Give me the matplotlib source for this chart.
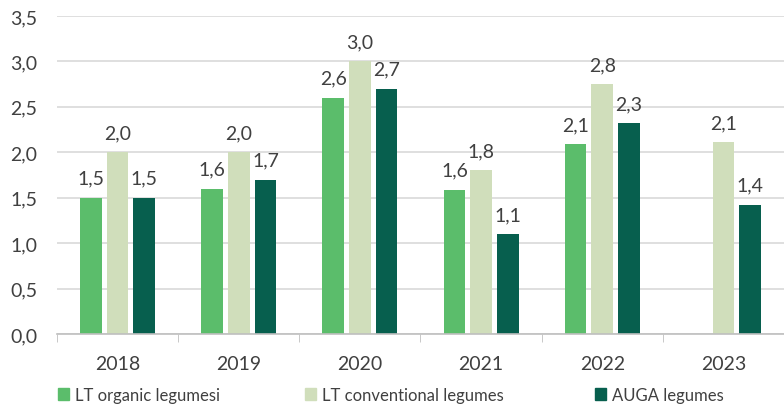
import matplotlib.pyplot as plt
from matplotlib.patches import Patch
import numpy as np

years = ["2018", "2019", "2020", "2021", "2022", "2023"]
organic = [1.5, 1.6, 2.6, 1.59, 2.09, np.nan]
conventional = [2.0, 2.0, 3.0, 1.8, 2.75, 2.11]
auga = [1.5, 1.7, 2.7, 1.1, 2.32, 1.42]
series_names = ["LT organic legumesi", "LT conventional legumes", "AUGA legumes"]
colors = ["#5BBD6B", "#D0DEBB", "#075F4E"]

plt.rcParams['font.family'] = ['Lato', 'DejaVu Sans']
text_color = "#404040"

fig = plt.figure(figsize=(7.84, 4.06), dpi=100)
ax = fig.add_axes([57 / 784, 1 - 335 / 406, 727 / 784, 318 / 406])

x = np.arange(len(years))
width = 0.18
offsets = [-0.22, 0.0, 0.22]

for vals, off, col, name in zip([organic, conventional, auga], offsets, colors, series_names):
    ax.bar(x + off, vals, width, color=col, label=name, zorder=3)
    for xi, v in zip(x + off, vals):
        if np.isnan(v):
            continue
        ax.annotate(f"{v:.1f}".replace(".", ","), (xi, v), xytext=(0, 8),
                    textcoords="offset points", ha="center", va="bottom",
                    fontsize=14, color=text_color)

ax.set_xlim(-0.5, len(years) - 0.5)
ax.set_ylim(0, 3.5)
ticks = np.arange(0, 3.51, 0.5)
ax.set_yticks(ticks)
ax.set_yticklabels([f"{t:.1f}".replace(".", ",") for t in ticks])
ax.set_xticks(x)
ax.set_xticklabels(years)
ax.set_xticks(np.arange(-0.5, len(years)), minor=True)
ax.tick_params(axis="x", which="major", length=0, pad=15, labelsize=14, colors=text_color)
ax.tick_params(axis="x", which="minor", length=6, color="#BFBFBF")
ax.tick_params(axis="y", length=0, pad=14, labelsize=14, colors=text_color)

ax.grid(axis="y", color="#D9D9D9", linewidth=1.2, zorder=0)
for s in ["top", "right", "left"]:
    ax.spines[s].set_visible(False)
ax.spines["bottom"].set_color("#BFBFBF")
ax.spines["bottom"].set_linewidth(1.2)
ax.spines["bottom"].set_zorder(4)

# one legend entry per slot, placed like the original
legend_x = [58, 305, 595]
for name, col, lx in zip(series_names, colors, legend_x):
    fig.legend(handles=[Patch(color=col)], labels=[name], loc="center left",
               bbox_to_anchor=(lx / 784, 1 - 396 / 406), frameon=False,
               fontsize=12, handlelength=0.65, handleheight=0.7, handletextpad=0.35,
               borderpad=0, borderaxespad=0, labelcolor=text_color)

fig.savefig("out.png", dpi=100)
